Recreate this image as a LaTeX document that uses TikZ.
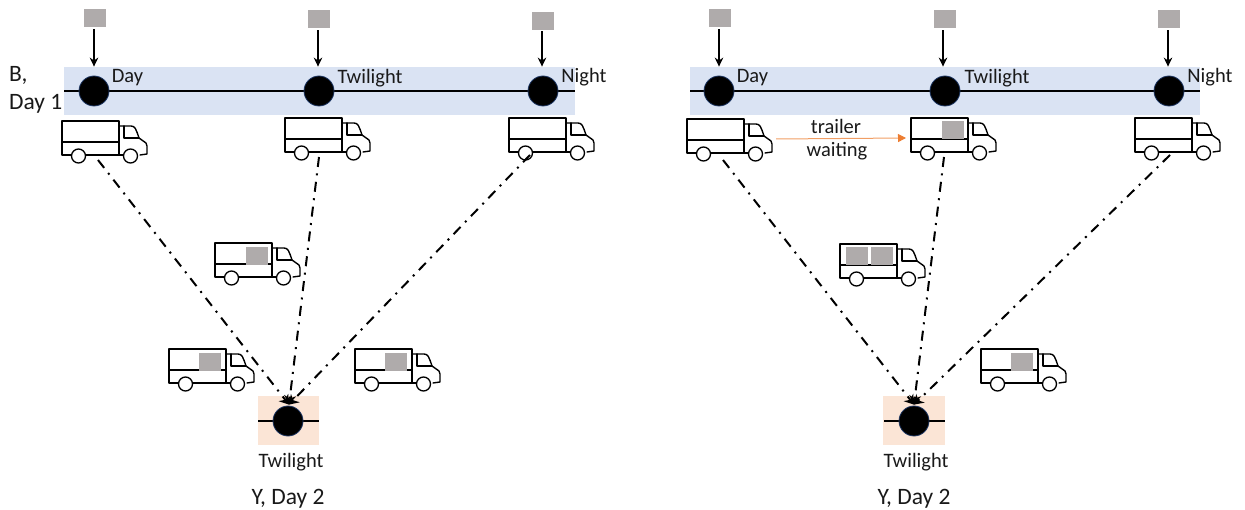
\documentclass[tikz,border=0pt]{standalone}
\usepackage{fontspec}
\setmainfont{Carlito}
\usetikzlibrary{arrows.meta,calc}
\definecolor{bandblue}{HTML}{DAE3F3}
\definecolor{paleorange}{HTML}{FBE5D6}
\definecolor{cargo}{HTML}{AFABAB}
\definecolor{rimblue}{HTML}{1F3864}
\definecolor{flow}{HTML}{ED7D31}
\tikzset{
  x=1pt,y=-1pt,
  txt/.style={font=\fontsize{23.5}{26}\selectfont,text=black!90,inner sep=0pt},
  txts/.style={font=\fontsize{20.5}{23}\selectfont,text=black!90,inner sep=0pt},
  band/.style={fill=bandblue,draw=none},
  yard/.style={fill=paleorange,draw=none},
  stop/.style={circle,fill=black,draw=rimblue,line width=.8pt,minimum size=30pt,inner sep=0pt},
  rail/.style={line width=1.7pt,black},
  pack/.style={fill=cargo,draw=none,minimum width=22pt,minimum height=18pt,inner sep=0pt},
  drop/.style={line width=1.5pt,-{Stealth[length=9pt,width=8.5pt]},black},
  lane/.style={line width=2pt,black,dash pattern=on 10pt off 6.5pt on 2pt off 6.5pt,-{Stealth[length=9pt,width=12pt]}},
  wait/.style={line width=1pt,flow!75,-{Triangle[length=8pt,width=8pt,color=flow]}},
  truckline/.style={line width=1.4pt,black,line join=round,line cap=round},
  truck/.pic={
    \draw[truckline] (9,34) -- (0,34) -- (0,0) -- (57,0) -- (57,34) -- (68,34);
    \draw[truckline] (0,21) -- (57,21);
    \draw[truckline] (22,34) -- (57,34);
    \draw[truckline] (57,5) -- (69,5) .. controls (73,5) and (74,8) .. (77,17) -- (84,22) -- (85,25) -- (85,33) -- (78,34);
    \draw[truckline] (62,5) -- (62,17) -- (77,17);
    \node[circle,fill=white,draw=black,line width=1.3pt,minimum size=14pt,inner sep=0pt] (-w1) at (16.5,35) {};
    \node[circle,fill=white,draw=black,line width=1.3pt,minimum size=14pt,inner sep=0pt] (-w2) at (68.5,35) {};
    \coordinate (-nose) at (90,20);
    \coordinate (-tail) at (-5,20);
  }
}
\begin{document}
\begin{tikzpicture}
\useasboundingbox (0,0) rectangle (1245,510);
% ---------- left panel
\fill[band] (64,67) rectangle (575,115);
\coordinate (la) at (64,91); \coordinate (lb) at (575,91);
\draw[rail] (la) -- (lb);
\node[stop] (l1) at (94,91) {};
\node[stop] (l2) at (319,91) {};
\node[stop] (l3) at (543,91) {};
\node[pack] (lp1) at (95,18) {};
\node[pack] (lp2) at (319,19) {};
\node[pack] (lp3) at (543,21) {};
\draw[drop] ($(lp1.south)+(-1,2)$) -- ($(l1.north)+(0,-9)$);
\draw[drop] ($(lp2.south)+(-1,2)$) -- ($(l2.north)+(-1,-9)$);
\draw[drop] ($(lp3.south)+(-1,1)$) -- ($(l3.north)+(-1,-9)$);
\node[txts,anchor=base] (ld) at (127.5,83) {Day};
\node[txts,anchor=base] (lt) at (370,84) {Twilight};
\node[txts,anchor=base] (ln) at (584,83) {Night};
\node[txt,anchor=base west] (lb1) at (9,82) {B,};
\node[txt,anchor=base west] (lb2) at (9,110) {Day 1};
\pic (tl1) at (62,121) {truck};
\pic (tl2) at (285,118) {truck};
\pic (tl3) at (509,118) {truck};
\pic (tl4) at (215,243) {truck};
\pic (tl5) at (169,349) {truck};
\pic (tl6) at (355,349) {truck};
\node[pack,anchor=north west] (lc4) at (246,247) {};
\node[pack,anchor=north west] (lc5) at (199,353) {};
\node[pack,anchor=north west] (lc6) at (385,353) {};
\fill[yard] (258,396) rectangle (319,445);
\coordinate (lya) at (258,421); \coordinate (lyb) at (319,421);
\draw[rail] (lya) -- (lyb);
\node[stop] (ly) at (288,421) {};
\node[txts,anchor=base] (lyt) at (291,467) {Twilight};
\node[txt,anchor=base] (lyd) at (288,504) {Y, Day 2};
\coordinate (ls1) at (98,160); \coordinate (ls2) at (319,157); \coordinate (ls3) at (530,155);
\draw[lane] (ls1) -- ($(ly.north)+(1,-1)$);
\draw[lane] (ls2) -- ($(ly.north)+(1,-1)$);
\draw[lane] (ls3) -- ($(ly.north)+(1,-1)$);
% ---------- right panel
\fill[band] (690,67) rectangle (1200,115);
\coordinate (ra) at (690,91); \coordinate (rb) at (1200,91);
\draw[rail] (ra) -- (rb);
\node[stop] (r1) at (719,91) {};
\node[stop] (r2) at (945,91) {};
\node[stop] (r3) at (1169,91) {};
\node[pack] (rp1) at (720,18) {};
\node[pack] (rp2) at (945,19) {};
\node[pack] (rp3) at (1169,19) {};
\draw[drop] ($(rp1.south)+(-1,2)$) -- ($(r1.north)+(0,-9)$);
\draw[drop] ($(rp2.south)+(-2,2)$) -- ($(r2.north)+(-2,-9)$);
\draw[drop] ($(rp3.south)+(-1,2)$) -- ($(r3.north)+(-1,-9)$);
\node[txts,anchor=base] (rd) at (752.5,83) {Day};
\node[txts,anchor=base] (rt) at (997,84) {Twilight};
\node[txts,anchor=base] (rn) at (1210,83) {Night};
\pic (tr1) at (687,119) {truck};
\pic (tr2) at (911,118) {truck};
\pic (tr3) at (1135,118) {truck};
\pic (tr4) at (840,244) {truck};
\pic (tr5) at (981,349) {truck};
\node[pack,anchor=north west] (rc2) at (942,121) {};
\node[pack,anchor=north west] (rc4a) at (846,247) {};
\node[pack,anchor=north west] (rc4b) at (871,247) {};
\node[pack,anchor=north west] (rc5) at (1011,353) {};
\fill[yard] (883,396) rectangle (945,445);
\coordinate (rya) at (884,421); \coordinate (ryb) at (945,421);
\draw[rail] (rya) -- (ryb);
\node[stop] (ry) at (914,421) {};
\node[txts,anchor=base] (ryt) at (916,467) {Twilight};
\node[txt,anchor=base] (ryd) at (914,504) {Y, Day 2};
\coordinate (rs1) at (723,160); \coordinate (rs2) at (944,157); \coordinate (rs3) at (1170,155);
\draw[lane] (rs1) -- ($(ry.north)+(0,-1)$);
\draw[lane] (rs2) -- ($(ry.north)+(0,-1)$);
\draw[lane] (rs3) -- ($(ry.north)+(0,-1)$);
\draw[wait] ($(tr1-nose)+(-1,0)$) -- (tr2-tail);
\node[txts,anchor=base] (wa) at (836,134) {trailer};
\node[txts,anchor=base] (wb) at (837,157) {waiting};
\end{tikzpicture}
\end{document}
